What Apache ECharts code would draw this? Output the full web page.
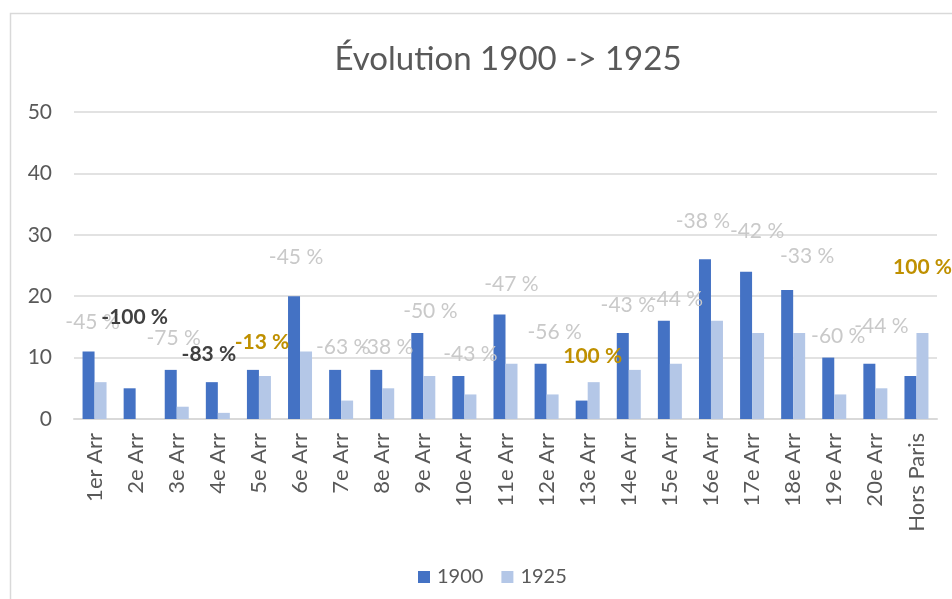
<!DOCTYPE html>
<html>
<head>
<meta charset="utf-8">
<script src="https://cdn.jsdelivr.net/npm/echarts@6/dist/echarts.min.js"></script>
<style>
  html, body { margin: 0; padding: 0; background: #ffffff; }
  #chart { width: 952px; height: 599px; }
</style>
</head>
<body>
<div id="chart"></div>
<script>
// Arrondissements and the two yearly counts
const categories = ['1er Arr', '2e Arr', '3e Arr', '4e Arr', '5e Arr', '6e Arr', '7e Arr', '8e Arr',
  '9e Arr', '10e Arr', '11e Arr', '12e Arr', '13e Arr', '14e Arr', '15e Arr', '16e Arr',
  '17e Arr', '18e Arr', '19e Arr', '20e Arr', 'Hors Paris'];
const values1900 = [11, 5, 8, 6, 8, 20, 8, 8, 14, 7, 17, 9, 3, 14, 16, 26, 24, 21, 10, 9, 7];
const values1925 = [6, 0, 2, 1, 7, 11, 3, 5, 7, 4, 9, 4, 6, 8, 9, 16, 14, 14, 4, 5, 14];
const yTicks = [0, 10, 20, 30, 40, 50];

// Label look for each percentage: muted grey, dark bold or gold bold
const labelKinds = ['muted', 'dark', 'muted', 'dark', 'gold', 'muted', 'muted', 'muted', 'muted', 'muted',
  'muted', 'muted', 'gold', 'muted', 'muted', 'muted', 'muted', 'muted', 'muted', 'muted', 'gold'];
// Hand-placed label offsets [dx, dy] from the top of each 1925 bar
const labelOffsets = [[-8, -48], [-7, -90], [-9, -56], [-15, -47], [-3, -22], [-10, -82], [-4, -41],
  [-2, -29], [1, -53], [0, -28], [0, -68], [2, -50], [-1, -14], [-7, -53], [0, -53], [-14, -88],
  [-1, -90], [8, -65], [-2, -46], [0, -50], [0, -54]];

const FONT = 'Lato';
const kindStyles = {
  muted: { color: '#c9c9c9', fontWeight: 'normal' },
  dark: { color: '#404040', fontWeight: 'bold' },
  gold: { color: '#bf9000', fontWeight: 'bold' }
};

// Relative change, rounded half away from zero
function pctText(a, b) {
  const r = (b - a) / a * 100;
  const p = Math.sign(r) * Math.round(Math.abs(r));
  return p + ' %';
}

const data1925 = values1925.map(function (v, i) {
  const k = kindStyles[labelKinds[i]];
  return {
    value: v,
    label: {
      show: true,
      position: 'top',
      distance: 0,
      formatter: pctText(values1900[i], v),
      color: k.color,
      fontWeight: k.fontWeight,
      fontFamily: FONT,
      fontSize: 21,
      lineHeight: 24
    }
  };
});

const chart = echarts.init(document.getElementById('chart'), null, { renderer: 'canvas' });
chart.setOption({
  animation: false,
  backgroundColor: '#ffffff',
  textStyle: { fontFamily: FONT },
  graphic: [{
    type: 'rect',
    shape: { x: 10.5, y: 13.5, width: 980, height: 620 },
    style: { fill: 'none', stroke: '#d9d9d9', lineWidth: 1.5 },
    silent: true,
    z: -1
  }],
  title: {
    text: 'Évolution 1900 -> 1925',
    left: 503,
    top: 38,
    textAlign: 'center',
    textStyle: { fontFamily: FONT, fontSize: 33, fontWeight: 'normal', color: '#595959' }
  },
  legend: {
    data: ['1900', '1925'],
    left: 413,
    top: 562,
    itemWidth: 12,
    itemHeight: 12,
    itemGap: 18,
    icon: 'rect',
    textStyle: { fontFamily: FONT, fontSize: 20, color: '#595959', padding: [0, 0, 0, 2] }
  },
  grid: { left: 74, right: 15, top: 112, bottom: 180, containLabel: false },
  xAxis: {
    type: 'category',
    data: categories,
    axisLine: { show: true, lineStyle: { color: '#d9d9d9', width: 2 } },
    axisTick: { show: false },
    axisLabel: {
      rotate: 90,
      margin: 14,
      interval: 0,
      fontFamily: FONT,
      fontSize: 22,
      color: '#595959'
    }
  },
  yAxis: {
    type: 'value',
    min: yTicks[0],
    max: yTicks[yTicks.length - 1],
    interval: yTicks[1] - yTicks[0],
    axisLine: { show: false },
    axisTick: { show: false },
    splitLine: { lineStyle: { color: '#d9d9d9', width: 1.5 } },
    axisLabel: { margin: 22, fontFamily: FONT, fontSize: 21, color: '#595959' }
  },
  series: [
    {
      name: '1900',
      type: 'bar',
      data: values1900,
      barWidth: 12,
      barGap: '0%',
      itemStyle: { color: '#4472c4' }
    },
    {
      name: '1925',
      type: 'bar',
      data: data1925,
      barWidth: 12,
      barGap: '0%',
      itemStyle: { color: '#b4c7e7' },
      labelLayout: function (params) {
        const o = labelOffsets[params.dataIndex];
        return { dx: o[0], dy: o[1], hideOverlap: false };
      },
      z: 3
    }
  ]
});
</script>
</body>
</html>
